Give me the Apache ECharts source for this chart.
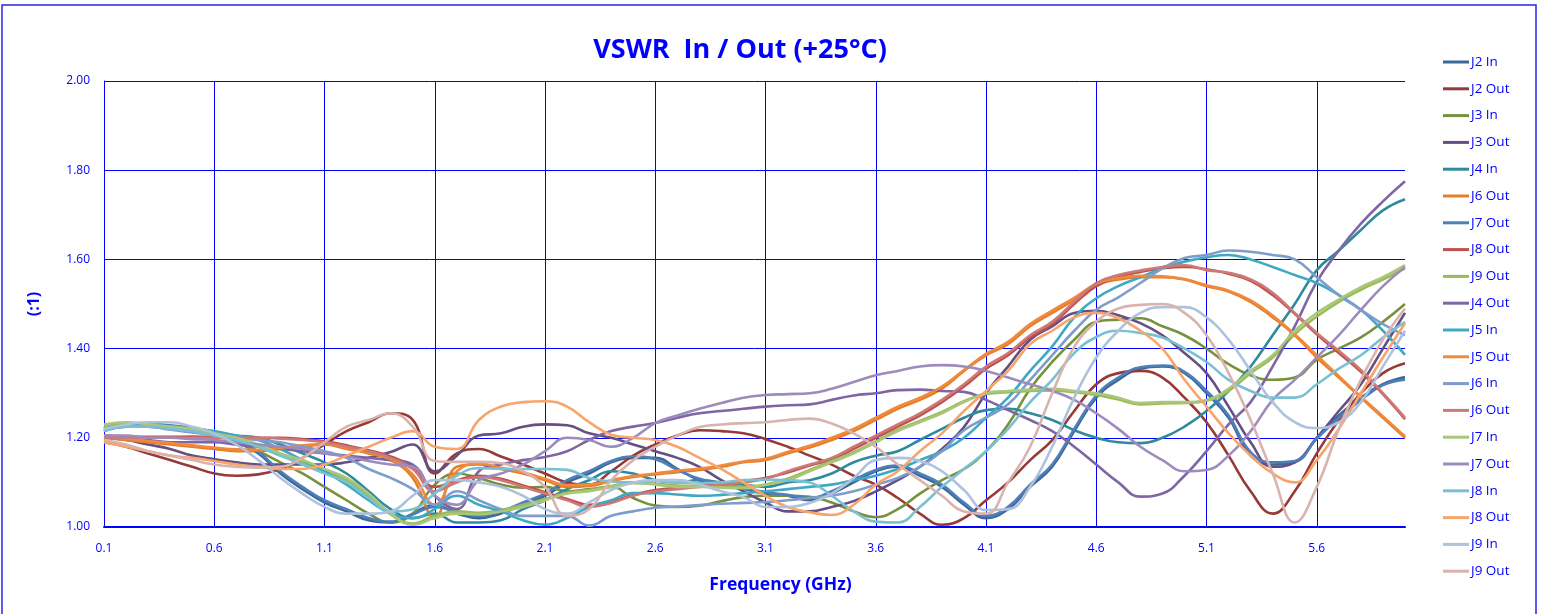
<!DOCTYPE html>
<html>
<head>
<meta charset="utf-8">
<script src="https://cdn.jsdelivr.net/npm/echarts@6/dist/echarts.min.js"></script>
<style>
html,body{margin:0;padding:0;background:#fff;}
#chart{width:1554px;height:614px;}
</style>
</head>
<body>
<div id="chart"></div>
<script>
const freq = [0.1,0.2,0.3,0.4,0.5,0.6,0.7,0.8,0.9,1.0,
 1.1,1.2,1.3,1.4,1.5,1.6,1.7,1.8,1.9,2.0,
 2.1,2.2,2.3,2.4,2.5,2.6,2.7,2.8,2.9,3.0,
 3.1,3.2,3.3,3.4,3.5,3.6,3.7,3.8,3.9,4.0,
 4.1,4.2,4.3,4.4,4.5,4.6,4.7,4.8,4.9,5.0,
 5.1,5.2,5.3,5.4,5.5,5.6,5.7,5.8,5.9,6.0];

const xTicks = {min:0.1, max:6.0, step:0.5};
const yTicks = {min:1.0, max:2.0, step:0.2};

const J2_In = [1.215,1.23,1.23,1.225,1.22,1.21,1.19,1.165,1.12,1.085,
 1.055,1.035,1.015,1.01,1.03,1.05,1.03,1.02,1.03,1.05,
 1.07,1.10,1.12,1.145,1.155,1.155,1.13,1.105,1.095,1.085,
 1.075,1.07,1.06,1.075,1.10,1.125,1.135,1.115,1.09,1.05,
 1.02,1.04,1.09,1.135,1.215,1.29,1.33,1.355,1.36,1.345,
 1.30,1.245,1.16,1.14,1.145,1.20,1.25,1.29,1.32,1.336];
const J2_Out = [1.19,1.18,1.165,1.15,1.135,1.12,1.115,1.118,1.13,1.155,
 1.185,1.215,1.235,1.255,1.24,1.12,1.165,1.175,1.158,1.14,
 1.12,1.10,1.095,1.125,1.16,1.185,1.205,1.217,1.215,1.21,
 1.197,1.18,1.16,1.14,1.115,1.095,1.065,1.03,1.005,1.02,
 1.06,1.10,1.15,1.195,1.26,1.32,1.345,1.35,1.335,1.29,
 1.235,1.16,1.08,1.03,1.08,1.165,1.24,1.30,1.345,1.367];
const J3_In = [1.22,1.225,1.225,1.22,1.215,1.205,1.19,1.17,1.145,1.12,
 1.09,1.06,1.03,1.01,1.03,1.095,1.12,1.11,1.095,1.088,
 1.09,1.08,1.085,1.09,1.065,1.048,1.045,1.048,1.058,1.067,
 1.07,1.07,1.068,1.055,1.035,1.022,1.04,1.075,1.105,1.13,
 1.17,1.23,1.31,1.37,1.42,1.46,1.465,1.468,1.45,1.43,
 1.40,1.365,1.34,1.33,1.335,1.375,1.40,1.425,1.46,1.50];
const J3_Out = [1.20,1.195,1.185,1.175,1.16,1.152,1.145,1.14,1.14,1.14,
 1.14,1.145,1.155,1.168,1.185,1.125,1.16,1.205,1.21,1.225,
 1.23,1.228,1.21,1.20,1.185,1.17,1.155,1.135,1.105,1.08,
 1.055,1.035,1.035,1.045,1.058,1.08,1.105,1.135,1.175,1.224,
 1.30,1.36,1.42,1.45,1.48,1.485,1.475,1.457,1.43,1.39,
 1.345,1.27,1.19,1.135,1.145,1.20,1.26,1.32,1.40,1.48];
const J4_In = [1.215,1.225,1.225,1.222,1.218,1.213,1.205,1.20,1.185,1.165,
 1.145,1.12,1.08,1.04,1.02,1.03,1.01,1.01,1.015,1.04,
 1.06,1.085,1.105,1.125,1.12,1.105,1.10,1.105,1.10,1.095,
 1.09,1.10,1.105,1.12,1.145,1.16,1.17,1.195,1.22,1.245,
 1.262,1.265,1.255,1.24,1.217,1.20,1.19,1.188,1.20,1.225,
 1.26,1.305,1.36,1.43,1.50,1.576,1.62,1.666,1.71,1.735];
const J6_Out_a = [1.20,1.195,1.19,1.185,1.18,1.175,1.17,1.17,1.175,1.18,
 1.185,1.175,1.165,1.15,1.11,1.02,1.135,1.14,1.13,1.12,
 1.105,1.09,1.092,1.103,1.112,1.118,1.123,1.128,1.135,1.145,
 1.15,1.165,1.178,1.195,1.215,1.24,1.265,1.285,1.31,1.35,
 1.385,1.41,1.45,1.48,1.51,1.543,1.555,1.56,1.56,1.555,
 1.54,1.528,1.505,1.47,1.43,1.38,1.335,1.29,1.245,1.20];
const J7_Out_a = [1.22,1.232,1.232,1.228,1.222,1.212,1.193,1.168,1.125,1.09,
 1.06,1.04,1.02,1.012,1.028,1.045,1.035,1.025,1.035,1.055,
 1.075,1.105,1.125,1.148,1.158,1.152,1.128,1.108,1.098,1.088,
 1.078,1.072,1.065,1.08,1.105,1.128,1.138,1.12,1.095,1.055,
 1.025,1.045,1.095,1.14,1.22,1.295,1.335,1.358,1.362,1.348,
 1.305,1.25,1.168,1.145,1.148,1.198,1.245,1.285,1.318,1.33];
const J8_Out_a = [1.205,1.203,1.202,1.202,1.203,1.202,1.202,1.20,1.20,1.197,
 1.192,1.183,1.172,1.158,1.135,1.09,1.105,1.115,1.108,1.093,
 1.078,1.063,1.05,1.057,1.072,1.083,1.088,1.093,1.098,1.103,
 1.11,1.122,1.138,1.152,1.175,1.20,1.225,1.25,1.28,1.315,
 1.355,1.385,1.425,1.455,1.50,1.54,1.56,1.572,1.58,1.583,
 1.578,1.568,1.552,1.52,1.478,1.432,1.39,1.348,1.298,1.242];
const J9_Out_a = [1.225,1.232,1.228,1.222,1.216,1.207,1.196,1.18,1.16,1.145,
 1.125,1.105,1.07,1.028,1.008,1.025,1.035,1.032,1.038,1.05,
 1.063,1.077,1.083,1.092,1.10,1.097,1.093,1.092,1.09,1.09,
 1.095,1.108,1.128,1.148,1.168,1.192,1.218,1.238,1.258,1.282,
 1.298,1.302,1.305,1.306,1.302,1.296,1.286,1.275,1.277,1.278,
 1.283,1.305,1.345,1.38,1.432,1.472,1.505,1.532,1.555,1.58];
const J4_Out = [1.205,1.20,1.195,1.19,1.19,1.19,1.185,1.18,1.175,1.17,
 1.165,1.16,1.155,1.15,1.14,1.07,1.04,1.125,1.14,1.15,
 1.157,1.17,1.195,1.215,1.225,1.233,1.245,1.255,1.26,1.265,
 1.27,1.273,1.275,1.285,1.295,1.30,1.307,1.308,1.305,1.303,
 1.285,1.262,1.24,1.215,1.18,1.14,1.10,1.068,1.075,1.115,
 1.17,1.23,1.28,1.36,1.45,1.55,1.62,1.68,1.73,1.775];
const J5_In = [1.22,1.228,1.23,1.225,1.22,1.215,1.205,1.195,1.175,1.15,
 1.125,1.095,1.06,1.03,1.02,1.04,1.07,1.05,1.035,1.015,
 1.005,1.02,1.045,1.06,1.076,1.076,1.073,1.07,1.072,1.076,
 1.08,1.085,1.09,1.095,1.105,1.115,1.13,1.15,1.17,1.20,
 1.245,1.29,1.35,1.405,1.47,1.513,1.54,1.56,1.58,1.595,
 1.605,1.61,1.60,1.583,1.565,1.547,1.52,1.487,1.44,1.386];
const J5_Out = [1.205,1.198,1.193,1.188,1.183,1.178,1.174,1.173,1.178,1.183,
 1.186,1.178,1.168,1.152,1.118,1.05,1.125,1.142,1.133,1.123,
 1.108,1.094,1.095,1.105,1.114,1.12,1.126,1.131,1.138,1.147,
 1.153,1.168,1.182,1.20,1.22,1.245,1.27,1.29,1.315,1.352,
 1.388,1.415,1.455,1.485,1.514,1.545,1.558,1.563,1.562,1.556,
 1.542,1.53,1.508,1.474,1.432,1.385,1.338,1.292,1.248,1.203];
const J6_In = [1.22,1.225,1.225,1.218,1.212,1.206,1.20,1.195,1.19,1.18,
 1.17,1.155,1.13,1.11,1.085,1.05,1.08,1.06,1.04,1.025,
 1.025,1.025,1.003,1.025,1.035,1.043,1.046,1.049,1.052,1.054,
 1.056,1.06,1.065,1.07,1.08,1.095,1.11,1.135,1.17,1.217,
 1.245,1.275,1.33,1.385,1.44,1.487,1.515,1.547,1.58,1.603,
 1.61,1.62,1.617,1.61,1.60,1.56,1.52,1.487,1.455,1.43];
const J6_Out_b = [1.20,1.20,1.20,1.20,1.20,1.20,1.20,1.20,1.198,1.195,
 1.19,1.18,1.17,1.155,1.13,1.08,1.10,1.112,1.105,1.09,
 1.075,1.06,1.045,1.054,1.07,1.08,1.085,1.09,1.095,1.10,
 1.108,1.125,1.14,1.155,1.18,1.205,1.23,1.255,1.285,1.32,
 1.36,1.39,1.43,1.46,1.505,1.547,1.565,1.575,1.583,1.587,
 1.576,1.57,1.555,1.525,1.48,1.435,1.395,1.352,1.30,1.245];
const J7_In = [1.23,1.235,1.23,1.225,1.22,1.21,1.20,1.185,1.165,1.15,
 1.13,1.11,1.075,1.03,1.005,1.02,1.03,1.028,1.035,1.045,
 1.06,1.075,1.08,1.09,1.098,1.095,1.09,1.09,1.088,1.087,
 1.095,1.105,1.125,1.145,1.165,1.19,1.215,1.235,1.255,1.28,
 1.30,1.305,1.308,1.31,1.305,1.30,1.29,1.278,1.28,1.28,
 1.285,1.31,1.35,1.385,1.44,1.48,1.51,1.538,1.56,1.587];
const J7_Out_b = [1.205,1.205,1.20,1.20,1.197,1.195,1.19,1.185,1.18,1.175,
 1.165,1.158,1.148,1.14,1.135,1.07,1.05,1.105,1.12,1.14,
 1.17,1.20,1.195,1.18,1.20,1.233,1.25,1.265,1.278,1.29,
 1.296,1.298,1.30,1.31,1.325,1.34,1.35,1.36,1.363,1.36,
 1.35,1.335,1.32,1.305,1.285,1.255,1.22,1.18,1.15,1.125,
 1.128,1.16,1.215,1.285,1.33,1.38,1.43,1.487,1.54,1.583];
const J8_In = [1.215,1.225,1.225,1.22,1.215,1.205,1.195,1.18,1.16,1.14,
 1.12,1.10,1.065,1.035,1.04,1.075,1.115,1.132,1.13,1.13,
 1.13,1.128,1.11,1.102,1.10,1.103,1.10,1.098,1.10,1.105,
 1.106,1.105,1.10,1.07,1.035,1.012,1.01,1.045,1.09,1.13,
 1.17,1.22,1.28,1.33,1.39,1.426,1.44,1.435,1.425,1.40,
 1.37,1.33,1.305,1.29,1.29,1.32,1.355,1.385,1.425,1.46];
const J8_Out_b = [1.19,1.18,1.17,1.16,1.155,1.148,1.14,1.135,1.13,1.13,
 1.14,1.16,1.18,1.20,1.215,1.18,1.175,1.24,1.27,1.28,
 1.282,1.27,1.235,1.207,1.20,1.195,1.18,1.155,1.13,1.10,
 1.07,1.045,1.033,1.027,1.05,1.095,1.125,1.17,1.21,1.26,
 1.305,1.35,1.41,1.44,1.47,1.48,1.468,1.44,1.40,1.33,
 1.27,1.21,1.16,1.12,1.10,1.15,1.22,1.30,1.38,1.457];
const J9_In = [1.22,1.23,1.235,1.235,1.225,1.21,1.185,1.15,1.11,1.075,
 1.045,1.03,1.03,1.035,1.07,1.105,1.105,1.10,1.09,1.07,
 1.04,1.03,1.055,1.083,1.10,1.105,1.105,1.095,1.08,1.067,
 1.045,1.045,1.054,1.075,1.11,1.15,1.155,1.148,1.125,1.083,
 1.038,1.04,1.09,1.18,1.29,1.38,1.44,1.48,1.493,1.493,
 1.47,1.42,1.35,1.28,1.235,1.222,1.235,1.28,1.36,1.44];
const J9_Out_b = [1.195,1.185,1.17,1.16,1.15,1.14,1.135,1.133,1.135,1.155,
 1.19,1.225,1.24,1.255,1.225,1.148,1.146,1.146,1.143,1.125,
 1.09,1.025,1.04,1.105,1.15,1.18,1.205,1.224,1.23,1.233,
 1.235,1.24,1.243,1.232,1.21,1.18,1.14,1.105,1.07,1.035,
 1.03,1.10,1.18,1.30,1.404,1.46,1.49,1.498,1.50,1.48,
 1.43,1.345,1.24,1.12,1.01,1.09,1.22,1.33,1.42,1.49];

// legend labels (a zero-width space keeps repeated labels distinct)
const seriesNames = ['J2 In','J2 Out','J3 In','J3 Out','J4 In','J6 Out','J7 Out','J8 Out','J9 Out','J4 Out',
 'J5 In','J5 Out','J6 In','J6 Out\u200B','J7 In','J7 Out\u200B','J8 In','J8 Out\u200B','J9 In','J9 Out\u200B'];
const seriesValues = [J2_In,J2_Out,J3_In,J3_Out,J4_In,J6_Out_a,J7_Out_a,J8_Out_a,J9_Out_a,J4_Out,
 J5_In,J5_Out,J6_In,J6_Out_b,J7_In,J7_Out_b,J8_In,J8_Out_b,J9_In,J9_Out_b];
const seriesColors = ['#3C6898','#963A38','#76923C','#654F84','#2F8A9E','#E57E2A','#4F7FBA','#C0504D','#9BBB59','#7E66A4',
 '#3FA8C2','#F0893C','#7D9DCD','#CD7A77','#A9C67B','#9D8BBE','#79C0D3','#F8A56C','#AEC2DD','#D9B3AE'];

const BLUE = '#0000FF';
const FONT = 'Open Sans';

const chart = echarts.init(document.getElementById('chart'), null, {renderer:'canvas'});
chart.setOption({
  animation: false,
  backgroundColor: '#fff',
  color: seriesColors,
  title: {
    text: 'VSWR  In / Out (+25°C)',
    left: 735, top: 32, textAlign: 'center',
    textStyle: {color: BLUE, fontFamily: FONT, fontWeight: 'bold', fontSize: 27}
  },
  graphic: [{
    type: 'rect', silent: true,
    shape: {x: 2, y: 5, width: 1534, height: 660},
    style: {fill: 'none', stroke: '#2424E6', lineWidth: 1.5}
  }],
  legend: {
    orient: 'vertical', left: 1443, top: 54, padding: 0,
    icon: 'rect', itemWidth: 26, itemHeight: 3, itemGap: 10.8,
    textStyle: {color: BLUE, fontFamily: FONT, fontSize: 13.5, lineHeight: 16, padding: [0,0,0,-3]},
    data: seriesNames
  },
  grid: {left: 104, right: 149, top: 81, bottom: 87, containLabel: false},
  xAxis: {
    type: 'value', min: xTicks.min, max: xTicks.max, interval: xTicks.step,
    name: 'Frequency (GHz)', nameLocation: 'middle', nameGap: 49,
    nameTextStyle: {color: BLUE, fontFamily: FONT, fontWeight: 'bold', fontSize: 17.5, padding: [0,0,0,52]},
    axisLine: {show: true, lineStyle: {color: BLUE, width: 2}},
    axisTick: {show: false},
    axisLabel: {color: BLUE, fontFamily: FONT, fontSize: 12, margin: 16, showMaxLabel: false,
      formatter: v => v.toFixed(1)},
    splitLine: {show: true, showMaxLine: false, lineStyle: {color: BLUE, width: 1}}
  },
  yAxis: {
    type: 'value', min: yTicks.min, max: yTicks.max, interval: yTicks.step,
    name: '(:1)', nameLocation: 'middle', nameGap: 62, nameRotate: 90,
    nameTextStyle: {color: BLUE, fontFamily: FONT, fontWeight: 'bold', fontSize: 16},
    axisLine: {show: true, lineStyle: {color: BLUE, width: 1}},
    axisTick: {show: false},
    axisLabel: {color: BLUE, fontFamily: FONT, fontSize: 12, margin: 14, formatter: v => v.toFixed(2)},
    splitLine: {show: true, lineStyle: {color: BLUE, width: 1}}
  },
  series: seriesNames.map((n, i) => ({
    name: n, type: 'line', smooth: 0.45, symbol: 'none',
    lineStyle: {width: 2.6, color: seriesColors[i]},
    itemStyle: {color: seriesColors[i]},
    data: freq.map((f, k) => [f, seriesValues[i][k]])
  }))
});
</script>
</body>
</html>
